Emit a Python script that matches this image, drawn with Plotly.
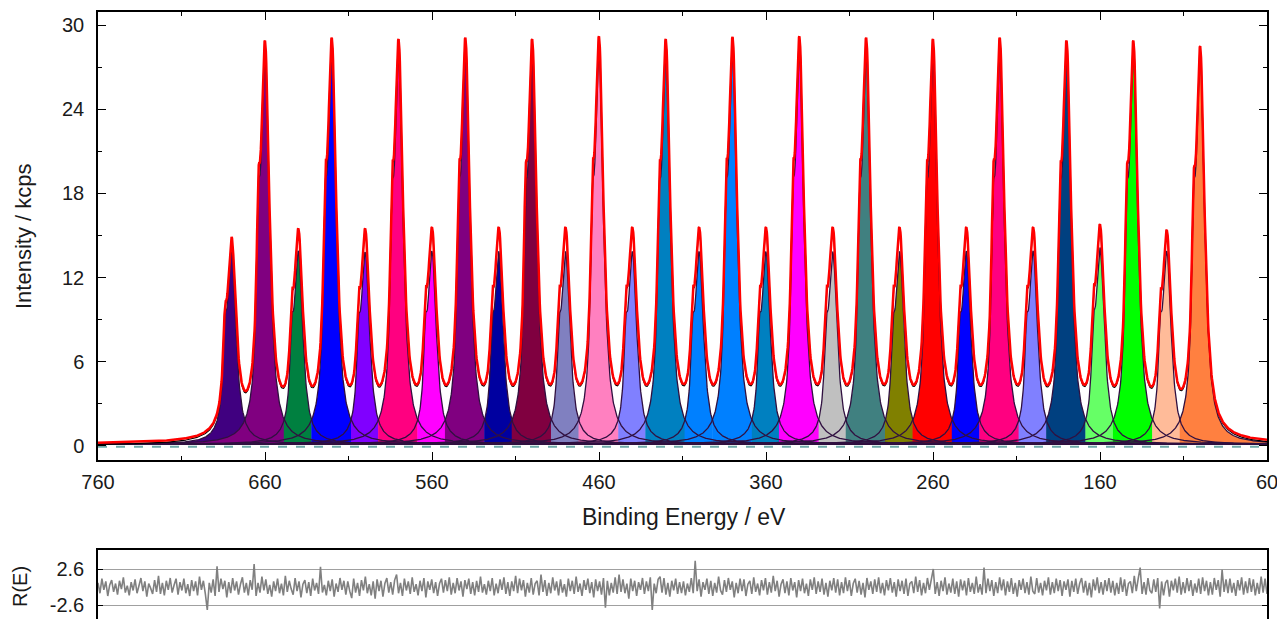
import numpy as np
import plotly.graph_objects as go

# ---------------- data ----------------
peak_energies = [680, 660, 640, 620, 600, 580, 560, 540, 520, 500,
                 480, 460, 440, 420, 400, 380, 360, 340, 320, 300,
                 280, 260, 240, 220, 200, 180, 160, 140, 120, 100]
envelope_tips = [14.9, 28.9, 15.5, 29.1, 15.5, 29.0, 15.6, 29.1, 15.6, 29.0,
                 15.6, 29.2, 15.6, 29.0, 15.6, 29.15, 15.6, 29.2, 15.6, 29.1,
                 15.6, 29.0, 15.6, 29.1, 15.6, 28.9, 15.8, 28.9, 15.4, 28.5]
component_colors = ["#400080", "#800080", "#008040", "#0000ff", "#8000ff",
                    "#ff0080", "#ff00ff", "#800080", "#0000a0", "#800040",
                    "#8080c0", "#ff80c0", "#8080ff", "#0080c0", "#0080ff",
                    "#0080ff", "#0080c0", "#ff00ff", "#c0c0c0", "#408080",
                    "#808000", "#ff0000", "#0000ff", "#ff0080", "#8080ff",
                    "#004080", "#66ff66", "#00ff00", "#ffbb99", "#ff8040"]
background_level = 0.12
x_ticks = [760, 660, 560, 460, 360, 260, 160, 60]
y_ticks = [0, 6, 12, 18, 24, 30]
resid_ticks = [-2.6, 2.6]

# residual R(E), in tenths, estimated left (760 eV) to right (60 eV)
residual_tenths = [
    6, -9, 12, -4, 8, -13, 3, 10, -7, 5, -11, 9, -3, 14, -8, 2, -12, 7, -5, 11,
    -9, 4, 13, -6, 8, -14, 5, -2, -10, 10, -7, 16, -10, 6, -12, 9, -4, 13, -8, 3,
    12, -11, 7, -5, 12, -9, 4, -13, 10, -6, 8, -12, 15, -4, 9, -10, -33, 6, -8, 11,
    -13, 30, -7, 12, -3, 9, -15, 7, -9, 13, -5, 8, -11, 4, 14, -8, 6, -12, 10, -4,
    33, -13, 6, -8, 15, -5, 11, -10, 3, -14, 8, -6, 12, -9, 5, -12, 16, -7, 9, -3,
    -11, 13, -6, 8, -15, 4, 10, -9, 7, -13, 12, -5, 6, -10, 29, -8, 3, -12, 9, -6,
    11, -14, 5, -7, 13, -4, 9, -11, 8, -6, -16, 12, -8, 6, -13, 10, -5, 15, -9, 4,
    -12, 8, -17, 11, -6, 9, -14, 5, 13, -8, 7, -11, 10, 18, -9, 6, -13, 12, -5, 8,
    -10, 14, -7, 4, -12, 9, -6, 13, -15, 8, -4, 11, -9, 7, -13, 5, 12, -8, 10, -6,
    14, -11, 6, -9, 13, -5, 8, -14, 10, -3, 12, -10, 7, -12, 9, -7, 15, -8, 4, -11,
    9, -6, 13, -12, 5, -9, 11, -4, 14, -10, 7, -13, 8, -6, 16, -9, 12, -5, 10, -14,
    6, -8, 13, -11, 5, 9, -12, 18, -7, 10, -13, 6, -9, 14, -5, 8, -12, 11, -8, 4,
    -14, 12, -6, 9, -10, 15, -7, 5, -13, 10, -4, 12, -9, 7, -15, 11, -6, 8, -11, 13,
    -30, 9, -12, 6, -8, 14, -10, 18, -7, 11, -9, 5, -17, 12, -6, 9, -13, 7, -4, 13,
    -10, 8, -6, 14, -33, 5, -9, 11, 15, -8, 13, -11, 6, -14, 9, -5, 12, -10, 7, -9,
    8, -12, 5, -7, 13, -9, 38, -6, 11, -14, 7, -4, 12, -10, 9, -13, 6, -8, 15, -5,
    -11, 10, -7, 13, -4, 8, -15, 6, -9, 12, -6, 11, -13, 4, 9, -10, 14, -7, 5, -12,
    10, -5, 13, -11, 7, -8, 16, -6, 9, -14, 4, 11, -9, 8, -12, 13, -5, 7, -15, 10,
    -6, 12, -9, 5, -13, 11, -4, 14, -10, 8, -7, 12, -11, 6, -14, 9, -5, 13, -8, 11,
    -12, 7, -9, 14, -6, 10, -13, 5, 12, -8, 9, -11, 6, -15, 13, -4, 8, -10, 11, -7,
    14, -9, 6, -12, 10, -5, 13, -8, 7, -14, 11, -6, 9, -10, 12, -13, 5, 8, -9, 15,
    -7, 10, -12, 6, -9, 13, -4, 11, 26, -10, 7, -13, 9, -6, 14, -11, 5, -8, 12, -10,
    8, -14, 11, -5, 9, -12, 13, -7, 6, -10, 15, -8, 4, -11, 28, -9, 12, -6, 10, -13,
    7, -9, 14, -5, 11, -12, 8, -7, 13, -10, 6, -14, 10, -4, 12, -9, 7, -11, 15, -6,
    -10, 13, -8, 6, -12, 9, -5, 14, -11, 7, -9, 12, -6, 10, -13, 8, -4, 11, -14, 9,
    -7, 12, -10, 5, 13, -8, 9, -12, 6, -15, 11, -5, 14, -9, 7, -11, 10, -6, 13, -8,
    9, -12, 6, -10, 14, -7, 11, -13, 5, 8, -9, 16, -6, 12, 28, -10, 7, -11, 13, -5,
    -9, 11, -7, 13, -31, 8, -12, 6, 10, -14, 9, -5, 12, -8, 15, -11, 7, -9, 13, -6,
    10, -13, 5, -8, 12, -10, 14, -6, 9, -12, 7, -11, 13, -4, 10, -14, 25, -7, 11, -9,
    12, -8, 6, -13, 10, -5, 14, -11, 8, -9, 13, -7, 11, -12, 6, -10, 15, -8, 12, -10,
]

# line-shape parameters (pseudo-Voigt main line + narrow Lorentzian shoulder)
fwhm_main = 6.3
lorentz_fraction = 0.9
shoulder_offset = 4.0
shoulder_ratio = 0.30
fwhm_shoulder = 2.5

# ---------------- model curves ----------------
E = np.linspace(760, 60, 2801)


def lor(x, c, w):
    return 1.0 / (1.0 + (2.0 * (x - c) / w) ** 2)


def gau(x, c, w):
    return np.exp(-4.0 * np.log(2.0) * ((x - c) / w) ** 2)


def shape(x, c):
    main = lorentz_fraction * lor(x, c, fwhm_main) + (1 - lorentz_fraction) * gau(x, c, fwhm_main)
    return main + shoulder_ratio * lor(x, c + shoulder_offset, fwhm_shoulder)


centers = np.array(peak_energies, dtype=float)
M = np.array([[shape(ci, cj) for cj in centers] for ci in centers])
amps = np.linalg.solve(M, np.array(envelope_tips) - background_level)

comps = np.array([a * shape(E, c) for a, c in zip(amps, centers)])
envelope = background_level + comps.sum(axis=0)
owner = comps.argmax(axis=0)

fig = go.Figure()

# filled components (colour of the dominant component at each energy)
for j, col in enumerate(component_colors):
    idx = np.where(owner == j)[0]
    if len(idx) == 0:
        continue
    lo = max(idx.min() - 1, 0)
    hi = min(idx.max() + 2, len(E))
    xs = E[lo:hi]
    ys = background_level + comps[j, lo:hi]
    fig.add_trace(go.Scatter(
        x=np.concatenate([xs, xs[::-1]]),
        y=np.concatenate([ys, np.full(len(xs), background_level)]),
        fill="toself", fillcolor=col, mode="lines", line=dict(width=0),
        hoverinfo="skip", xaxis="x", yaxis="y"))

# component outlines
ox, oy = [], []
for j in range(len(centers)):
    ox.extend(E.tolist()); ox.append(None)
    oy.extend((background_level + comps[j]).tolist()); oy.append(None)
fig.add_trace(go.Scatter(x=ox, y=oy, mode="lines",
                         line=dict(color="#301040", width=1.3),
                         hoverinfo="skip", xaxis="x", yaxis="y"))

# dashed zero / baseline
fig.add_trace(go.Scatter(x=[760, 60], y=[-0.05, -0.05], mode="lines",
                         line=dict(color="#6fa9a9", width=2, dash="dash"),
                         xaxis="x", yaxis="y"))

# data (black) and envelope (red)
fig.add_trace(go.Scatter(x=E, y=envelope - 0.12, mode="lines",
                         line=dict(color="black", width=1.2), xaxis="x", yaxis="y"))
fig.add_trace(go.Scatter(x=E, y=envelope, mode="lines",
                         line=dict(color="#ff0000", width=2.5), xaxis="x", yaxis="y"))

# residual
resid = np.array(residual_tenths) / 10.0
xr = np.linspace(760, 60, len(resid))
fig.add_trace(go.Scatter(x=xr, y=resid, mode="lines",
                         line=dict(color="#808080", width=1.6), xaxis="x2", yaxis="y2"))

font_family = "Liberation Sans, Arial, sans-serif"
txt = "#1a1a1a"

# the page body adds an 8px offset; margins are set so the plot area
# lands at x 98..1267 and y 12..619 in the browser window
fig.update_layout(
    width=1277, height=611,
    margin=dict(l=90, r=18, t=4, b=0),
    paper_bgcolor="white", plot_bgcolor="white",
    showlegend=False,
    font=dict(family=font_family, size=20, color=txt),
    xaxis=dict(domain=[0, 1], anchor="y", range=[760, 60],
               tickmode="array", tickvals=x_ticks,
               ticks="inside", ticklen=8, tickwidth=1, tickcolor="black",
               minor=dict(dtick=50, tick0=60, ticks="inside", ticklen=4, tickcolor="black"),
               showline=True, linecolor="black", linewidth=1.5, mirror="allticks",
               showgrid=False, zeroline=False, ticklabelstandoff=3),
    yaxis=dict(domain=[159 / 607, 1], anchor="x", range=[-1.0, 30.93],
               tickmode="array", tickvals=y_ticks,
               ticks="inside", ticklen=8, tickwidth=1, tickcolor="black",
               minor=dict(dtick=3, tick0=0, ticks="inside", ticklen=4, tickcolor="black"),
               showline=True, linecolor="black", linewidth=1.5, mirror="allticks",
               showgrid=False, zeroline=False, ticklabelstandoff=8),
    xaxis2=dict(domain=[0, 1], anchor="y2", range=[760, 60], showticklabels=False,
                ticks="", showline=True, linecolor="black", linewidth=1.5, mirror=True,
                showgrid=False, zeroline=False),
    yaxis2=dict(domain=[0, 69 / 607], anchor="x2", range=[-4.622, 5.345],
                tickmode="array", tickvals=resid_ticks, ticktext=["-2.6", "2.6"],
                ticks="inside", ticklen=5, tickcolor="black",
                showline=True, linecolor="black", linewidth=1.5, mirror="allticks",
                showgrid=True, gridcolor="#a0a0a0", gridwidth=1,
                zeroline=False, ticklabelstandoff=8),
    annotations=[
        dict(text="Intensity / kcps", xref="paper", yref="paper",
             x=(23 - 98) / 1169, y=(619 - 236) / 607, textangle=-90,
             showarrow=False, xanchor="center", yanchor="middle",
             font=dict(size=22, family=font_family, color=txt)),
        dict(text="Binding Energy / eV", xref="paper", yref="paper",
             x=(684 - 98) / 1169, y=(619 - 517) / 607,
             showarrow=False, xanchor="center", yanchor="middle",
             font=dict(size=23, family=font_family, color=txt)),
        dict(text="R(E)", xref="paper", yref="paper",
             x=(20 - 98) / 1169, y=(619 - 587) / 607, textangle=-90,
             showarrow=False, xanchor="center", yanchor="middle",
             font=dict(size=20, family=font_family, color=txt)),
    ],
)

fig.write_html("out.html")
